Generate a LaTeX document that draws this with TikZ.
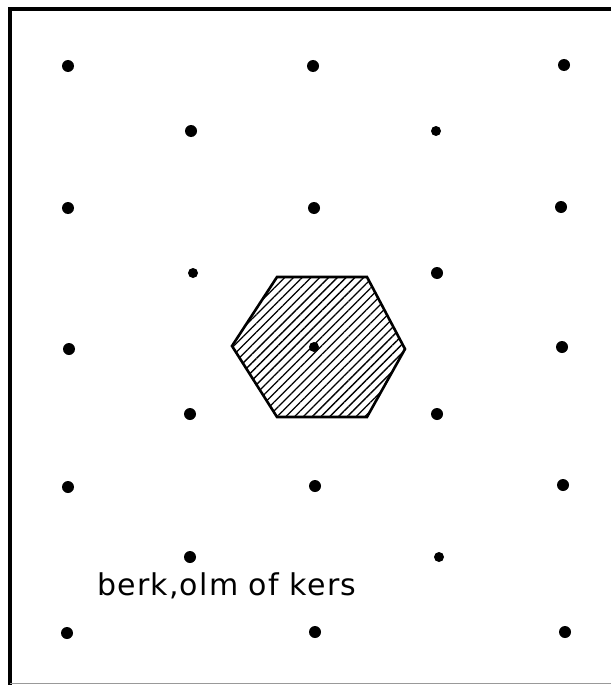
\documentclass[tikz,border=0pt]{standalone}
\usepackage{fontspec}
\newfontfamily\labelfont[LetterSpace=4]{DejaVu Sans}
\usetikzlibrary{patterns.meta}
\tikzset{
  dot/.style={circle, fill=black, inner sep=0pt, minimum size=12pt},
  smalldot/.style={dot, minimum size=10pt},
  frameline/.style={line width=3.4pt, black},
  hexcell/.style={line width=2.6pt, line join=miter, pattern={Lines[angle=45, distance=6.2pt, line width=1.3pt]}},
  lbl/.style={font=\labelfont\fontsize{30}{34}\selectfont, inner sep=0pt, anchor=base west}
}
\begin{document}
\begin{tikzpicture}[x=1pt,y=-1pt]
\useasboundingbox (0,0) rectangle (611,685);
% frame
\coordinate (ftr) at (611,9);
\coordinate (ftl) at (10,9);
\coordinate (fbl) at (10,685);
\coordinate (fbs) at (10,683);
\coordinate (fbr) at (611,683);
\draw[frameline] (ftr) -- (ftl) -- (fbl);
\draw[line width=1pt, black!40] (fbs) -- (fbr);
% hexagon
\coordinate (h1) at (277,277);
\coordinate (h2) at (367,277);
\coordinate (h3) at (405,349);
\coordinate (h4) at (367,417);
\coordinate (h5) at (277,417);
\coordinate (h6) at (232,346);
\draw[hexcell] (h1) -- (h2) -- (h3) -- (h4) -- (h5) -- (h6) -- cycle;
% dots
\node[dot] (d11) at (68,66) {};
\node[dot] (d12) at (313,66) {};
\node[dot] (d13) at (564,65) {};
\node[dot] (d21) at (191,131) {};
\node[smalldot] (d22) at (436,131) {};
\node[dot] (d31) at (68,208) {};
\node[dot] (d32) at (314,208) {};
\node[dot] (d33) at (561,207) {};
\node[smalldot] (d41) at (193,273) {};
\node[dot] (d42) at (437,273) {};
\node[dot] (d51) at (69,349) {};
\node[smalldot] (d52) at (314,347) {};
\node[dot] (d53) at (562,347) {};
\node[dot] (d61) at (190,414) {};
\node[dot] (d62) at (437,414) {};
\node[dot] (d71) at (68,487) {};
\node[dot] (d72) at (315,486) {};
\node[dot] (d73) at (563,485) {};
\node[dot] (d81) at (190,557) {};
\node[smalldot] (d82) at (439,557) {};
\node[dot] (d91) at (67,633) {};
\node[dot] (d92) at (315,632) {};
\node[dot] (d93) at (565,632) {};
% label
\node[lbl] (label) at (97,595) {berk,olm of kers};
\end{tikzpicture}
\end{document}
